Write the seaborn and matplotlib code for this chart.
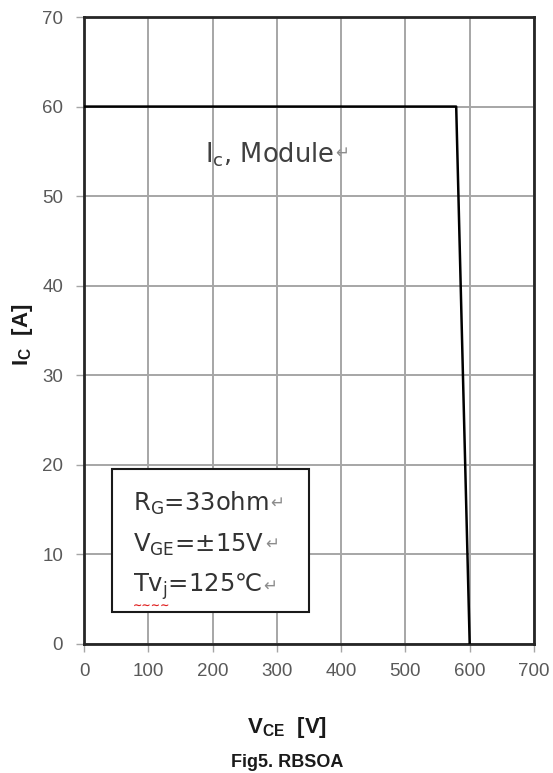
import matplotlib
matplotlib.use("Agg")
import matplotlib.pyplot as plt
import seaborn as sns
import pandas as pd

# data
vce = [0, 579, 600]
ic = [60, 60, 0]
x_ticks = [0, 100, 200, 300, 400, 500, 600, 700]
y_ticks = [0, 10, 20, 30, 40, 50, 60, 70]
param_lines = [r"R$_\mathregular{G}$=33ohm", r"V$_\mathregular{GE}$=$\pm$15V",
               r"Tv$_\mathregular{j}$=125℃"]
curve_label = r"I$_\mathregular{c}$, Module"

sns.set_theme(style="white")
plt.rcParams['font.family'] = ['DejaVu Sans', 'Noto Sans CJK SC']
plt.rcParams['mathtext.default'] = 'regular'

fig = plt.figure(figsize=(5.53, 7.73), dpi=100)
ax = fig.add_axes([0.1519, 0.1669, 0.8137, 0.8111])

df = pd.DataFrame({"VCE": vce, "IC": ic})
sns.lineplot(data=df, x="VCE", y="IC", ax=ax, color="black", linewidth=1.8, sort=False, zorder=3)

ax.set_xlim(0, 700)
ax.set_ylim(0, 70)
ax.set_xticks(x_ticks)
ax.set_yticks(y_ticks)
ax.grid(True, color="#a6a6a6", linewidth=1.4)
ax.set_axisbelow(True)
for s in ax.spines.values():
    s.set_color("#262626")
    s.set_linewidth(2)
ax.tick_params(axis="both", which="major", length=6, width=1, color="#a6a6a6",
               labelsize=13.5, labelcolor="#595959", direction="out", bottom=True, left=True)
for lab in ax.get_xticklabels() + ax.get_yticklabels():
    lab.set_family("Liberation Sans")
ax.tick_params(axis="x", pad=8)
ax.tick_params(axis="y", pad=9)

ax.set_xlabel("")
ax.set_ylabel("")
fig.text(0.040, 0.567, r"I$_\mathregular{C}$  [A]", rotation=90, fontsize=16,
         fontweight="bold", ha="center", va="center", color="#1a1a1a", family="Liberation Sans")
fig.text(0.519, 0.0517, r"V$_\mathregular{CE}$  [V]", fontsize=16, fontweight="bold",
         ha="center", va="baseline", color="#1a1a1a", family="Liberation Sans")
fig.text(0.519, 0.0135, "Fig5. RBSOA", fontsize=13, fontweight="bold",
         ha="center", va="center", color="#1a1a1a", family="Liberation Sans")

t0 = ax.text(188, 53.8, curve_label, fontsize=18.5, color="#404040",
             ha="left", va="baseline")
ax.annotate("\u21b5", xy=(1, 0.55), xycoords=t0, xytext=(1, 0), textcoords="offset points",
            fontsize=12, color="#8c8c8c", ha="left", va="center")

# parameter box
box = plt.Rectangle((43.6, 3.57), 306.4, 15.93, facecolor="white", edgecolor="#1a1a1a",
                    linewidth=1.5, zorder=4)
ax.add_patch(box)
baselines = [14.85, 10.27, 5.81]
texts = []
for t, yy in zip(param_lines, baselines):
    tt = ax.text(76.2, yy, t, fontsize=17.5, color="#333333", ha="left", va="baseline", zorder=5)
    texts.append(tt)
    ax.annotate("\u21b5", xy=(1, 0.55), xycoords=tt, xytext=(1, 0), textcoords="offset points",
                fontsize=12, color="#8c8c8c", ha="left", va="center", zorder=5)
# spell-check squiggle under "Tvj"
ax.annotate("\u223c\u223c\u223c\u223c", xy=(0, 0), xycoords=texts[2], xytext=(0, -3),
            textcoords="offset points", fontsize=8, fontweight="bold", color="#e02020",
            ha="left", va="center", zorder=6)

fig.savefig("out.png", dpi=100)
